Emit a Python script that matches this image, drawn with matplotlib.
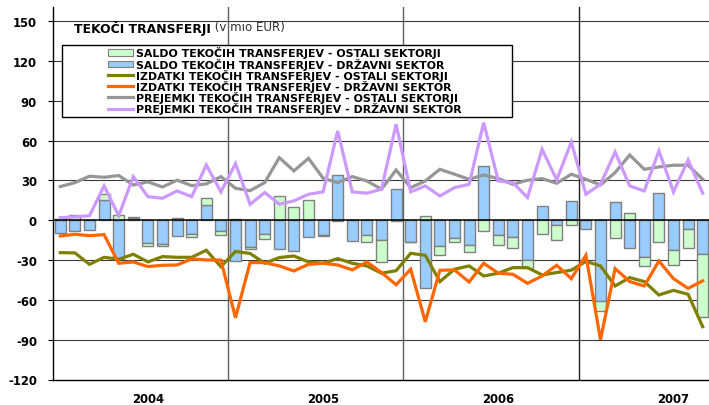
import numpy as np
import matplotlib
matplotlib.use("Agg")
import matplotlib.pyplot as plt
from matplotlib.patches import Rectangle, Patch
from matplotlib.lines import Line2D

# ---------------- data (monthly, Jan 2004 - Sep 2007, mio EUR) ----------------
years = ["2004", "2005", "2006", "2007"]

saldo_ostali = [1.0, 3.8, 0.0, 4.4, 4.0, 1.0, -2.5, -2.1, 2.0, -2.0, 5.3, -2.8,
                0.6, -2.0, -3.8, 18.3, 10.0, 15.3, -0.7, -0.5, 0.5, -5.0, -16.3, -0.2,
                -0.3, 3.3, -7.0, -3.0, -4.8, -8.0, -7.8, -8.8, -5.8, -10.1, -11.3, -3.8,
                0.0, -7.5, -13.6, 5.5, -7.0, -16.1, -11.3, -14.3, -47.5]
saldo_drzavni = [-9.3, -8.3, -7.7, 15.2, -29.0, 1.8, -17.2, -17.6, -12.2, -10.5, 11.3, -8.0,
                 -30.8, -19.8, -10.6, -21.4, -23.1, -12.6, -11.3, 33.9, -15.6, -11.3, -15.0, 23.4,
                 -16.3, -50.8, -19.3, -13.1, -18.8, 41.0, -11.1, -12.3, -29.9, 10.8, -3.5, 14.6,
                 -6.8, -60.8, 13.8, -20.6, -27.4, 20.9, -22.6, -6.3, -25.1]
izdatki_ostali = [-24.4, -24.6, -33.2, -27.9, -29.4, -25.6, -31.4, -27.4, -27.9, -27.9, -22.6, -35.0,
                  -23.5, -25.0, -32.4, -28.1, -26.9, -31.4, -32.4, -28.9, -32.4, -34.4, -39.9, -38.0,
                  -24.9, -26.4, -46.2, -36.9, -34.4, -42.0, -39.9, -35.7, -35.7, -41.2, -39.4, -37.6,
                  -31.0, -34.4, -49.5, -43.2, -46.2, -56.3, -52.8, -55.8, -80.2]
izdatki_drzavni = [-11.8, -10.6, -11.6, -10.8, -32.4, -31.4, -34.9, -33.9, -33.7, -29.1, -29.9, -30.0,
                   -73.5, -31.9, -31.9, -34.4, -38.2, -33.2, -32.4, -33.7, -37.4, -31.4, -39.4, -48.6,
                   -36.9, -76.5, -37.7, -37.4, -46.5, -32.4, -39.9, -40.7, -47.5, -42.0, -33.9, -44.0,
                   -26.4, -90.0, -36.4, -46.2, -49.5, -30.7, -44.0, -51.3, -45.7]
prejemki_ostali = [25.4, 28.4, 33.2, 32.4, 33.7, 26.6, 28.9, 25.1, 30.2, 26.1, 27.4, 32.9,
                   24.1, 22.3, 28.4, 47.2, 37.2, 46.7, 31.7, 28.4, 32.9, 29.6, 23.4, 37.9,
                   24.6, 29.6, 38.4, 34.7, 30.9, 34.2, 31.4, 27.1, 30.2, 31.4, 27.9, 34.7,
                   30.9, 26.6, 35.9, 49.2, 38.4, 40.2, 41.5, 41.5, 30.9]
prejemki_drzavni = [2.0, 2.5, 3.5, 25.9, 3.3, 32.9, 17.8, 16.6, 22.1, 17.8, 41.7, 21.4,
                    42.7, 12.0, 20.9, 12.1, 14.6, 19.6, 21.4, 67.3, 21.4, 20.4, 23.4, 72.4,
                    21.4, 25.9, 18.3, 24.6, 27.1, 73.6, 29.6, 28.4, 17.1, 53.5, 30.4, 59.0,
                    19.6, 27.1, 51.5, 25.9, 22.1, 52.3, 21.4, 45.5, 20.4]

labels = ["SALDO TEKOČIH TRANSFERJEV - OSTALI SEKTORJI",
          "SALDO TEKOČIH TRANSFERJEV - DRŽAVNI SEKTOR",
          "IZDATKI TEKOČIH TRANSFERJEV - OSTALI SEKTORJI",
          "IZDATKI TEKOČIH TRANSFERJEV - DRŽAVNI SEKTOR",
          "PREJEMKI TEKOČIH TRANSFERJEV - OSTALI SEKTORJI",
          "PREJEMKI TEKOČIH TRANSFERJEV - DRŽAVNI SEKTOR"]
title_bold = "TEKOČI TRANSFERJI"
title_rest = " (v mio EUR)"

# ---------------- styles ----------------
c_green = "#CCFFCC"
c_blue = "#99CCFF"
c_olive = "#808000"
c_orange = "#FF6600"
c_grey = "#969696"
c_purple = "#CC99FF"
plt.rcParams["font.family"] = ["DejaVu Sans"]

W, H = 709, 406
fig = plt.figure(figsize=(W / 100, H / 100), dpi=100)
ax = fig.add_axes([53 / W, (H - 380.5) / H, (710 - 53) / W, (380.5 - 8.3) / H])

x = np.arange(len(saldo_drzavni))
sd = np.array(saldo_drzavni)
so = np.array(saldo_ostali)
green_bottom = np.where(np.sign(so) == np.sign(sd), sd, 0.0)

bw = 0.75
ax.bar(x, sd, width=bw, color=c_blue, edgecolor="#808080", linewidth=1.0, zorder=2)
ax.bar(x, so, width=bw, bottom=green_bottom, color=c_green, edgecolor="#808080",
       linewidth=1.0, zorder=2)

lw = 2.3
ax.plot(x, izdatki_ostali, color=c_olive, lw=lw, zorder=4, solid_joinstyle="miter")
ax.plot(x, izdatki_drzavni, color=c_orange, lw=lw, zorder=4, solid_joinstyle="miter")
ax.plot(x, prejemki_ostali, color=c_grey, lw=lw, zorder=4, solid_joinstyle="miter")
ax.plot(x, prejemki_drzavni, color=c_purple, lw=lw, zorder=4, solid_joinstyle="miter")

ax.set_xlim(-0.5, len(x) - 0.5)
ax.set_ylim(-120, 160.5)
yt = np.arange(-120, 151, 30)
ax.set_yticks(yt)
ax.set_yticklabels([str(v) for v in yt], fontweight="bold", fontsize=8.4)
for v in yt:
    if v == 0:
        ax.axhline(v, color="black", lw=1.1, zorder=3)
    elif v != -120:
        ax.axhline(v, color="#3a3a3a", lw=0.8, zorder=1)
for k in range(1, len(years)):
    ax.axvline(12 * k - 0.5, color="#606060" if k < 3 else "#202020", lw=1.0, zorder=1)

ax.set_xticks([])
ax.tick_params(axis="y", direction="out", length=3.6, width=0.8, pad=8)
for s in ["top", "right"]:
    ax.spines[s].set_visible(False)
ax.spines["left"].set_linewidth(1.0)
ax.spines["bottom"].set_linewidth(1.0)

for k, yl in enumerate(years):
    ax.annotate(yl, xy=(12 * k + 6, 0), xycoords=("data", "axes fraction"),
                xytext=(0, -13.5), textcoords="offset points", ha="center", va="center",
                fontweight="bold", fontsize=8.4)

# title
t1 = fig.text(74 / W, 1 - 28 / H, title_bold, fontweight="bold", fontsize=8.9,
              va="center", ha="left")
fig.canvas.draw()
bb = t1.get_window_extent()
fig.text(bb.x1 / W, 1 - 28 / H, title_rest, fontsize=8.6, color="#303030",
         va="center", ha="left")

# legend frame
fig.patches.append(Rectangle((62 / W, 1 - 118 / H), (511.7 - 62) / W, (118 - 45.7) / H,
                             transform=fig.transFigure, facecolor="white",
                             edgecolor="black", lw=1.0, zorder=1))
handles = [Patch(facecolor=c_green, edgecolor="#808080", lw=0.8),
           Patch(facecolor=c_blue, edgecolor="#808080", lw=0.8),
           Line2D([], [], color=c_olive, lw=2.3),
           Line2D([], [], color=c_orange, lw=2.3),
           Line2D([], [], color=c_grey, lw=2.3),
           Line2D([], [], color=c_purple, lw=2.3)]
leg = fig.legend(handles, labels, loc="upper left",
                 bbox_to_anchor=(108 / W, 1 - 47.5 / H), bbox_transform=fig.transFigure,
                 frameon=False, borderpad=0, borderaxespad=0, handlelength=2.3,
                 handleheight=0.5, handletextpad=0.25, labelspacing=-0.08,
                 prop={"weight": "bold", "size": 7.95})
leg.set_zorder(2)

fig.savefig("out.png", dpi=100)
